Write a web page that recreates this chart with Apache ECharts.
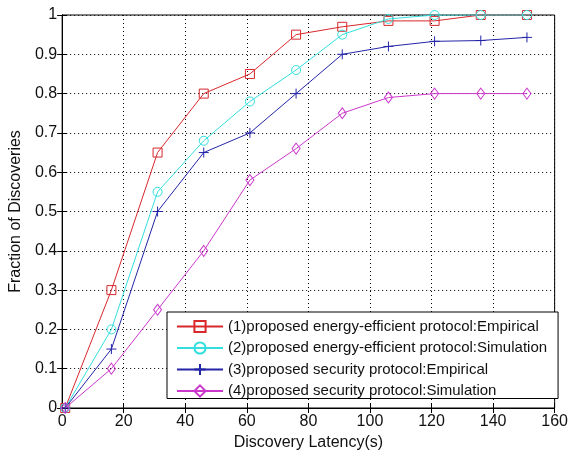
<!DOCTYPE html>
<html><head><meta charset="utf-8">
<script src="https://cdn.jsdelivr.net/npm/echarts@6/dist/echarts.min.js"></script>
<style>html,body{margin:0;padding:0;background:#fff}#c{width:571px;height:456px}</style>
</head><body><div id="c"></div>
<script>
const latency = [1, 16, 31, 46, 61, 76, 91, 106, 121, 136, 151];
const energyEmpirical = [0, 0.30, 0.65, 0.80, 0.85, 0.95, 0.97, 0.985, 0.985, 1.0, 1.0];
const energySimulation = [0, 0.20, 0.55, 0.68, 0.78, 0.86, 0.95, 0.99, 1.0, 1.0, 1.0];
const securityEmpirical = [0, 0.15, 0.50, 0.65, 0.70, 0.80, 0.90, 0.92, 0.933, 0.935, 0.943];
const securitySimulation = [0, 0.10, 0.25, 0.40, 0.58, 0.66, 0.75, 0.79, 0.80, 0.80, 0.80];
const seriesNames = [
  '(1)proposed energy-efficient protocol:Empirical',
  '(2)proposed energy-efficient protocol:Simulation',
  '(3)proposed security protocol:Empirical',
  '(4)proposed security protocol:Simulation'
];
const xTicks = [0, 20, 40, 60, 80, 100, 120, 140, 160];

const FONT = '"Liberation Sans Narrow", "Liberation Sans", Arial, sans-serif';
const colors = ['#d8282c', '#33dede', '#2424a8', '#cc38cc'];
const symbols = ['rect', 'circle', 'path://M0,5L10,5M5,0L5,10', 'diamond'];
const sizes = [[9, 9], [9, 9], [10, 10], [8, 11]];
const dataSets = [energyEmpirical, energySimulation, securityEmpirical, securitySimulation];

const chart = echarts.init(document.getElementById('c'), null, {renderer: 'canvas'});
const series = dataSets.map((d, i) => ({
  name: seriesNames[i],
  type: 'line',
  data: latency.map((x, j) => [x, d[j]]),
  symbol: symbols[i],
  symbolSize: sizes[i],
  showAllSymbol: true,
  lineStyle: {color: colors[i], width: 1},
  itemStyle: {color: 'rgba(255,255,255,0)', borderColor: colors[i], borderWidth: 1},
  emphasis: {disabled: true},
  animation: false,
  z: 3 + i
}));
const axisCommon = {
  axisLine: {show: true, lineStyle: {color: '#000', width: 1}},
  axisTick: {show: true, inside: true, length: 5, lineStyle: {color: '#000'}},
};
chart.setOption({
  backgroundColor: '#fff',
  animation: false,
  grid: {left: 57, right: 14, top: 15, bottom: 45, show: true, borderColor: '#000', borderWidth: 1, backgroundColor: 'transparent'},
  legend: {
    show: true,
    data: seriesNames.map(n => ({name: n, itemStyle: {color: 'rgba(255,255,255,0)'}})),
    orient: 'vertical',
    left: 167, top: 312,
    padding: [7, 11, 0, 9],
    itemGap: 6.5,
    itemWidth: 46, itemHeight: 14,
    borderColor: '#000', borderWidth: 1,
    backgroundColor: '#fff',
    textStyle: {fontFamily: FONT, fontSize: 15, color: '#111', padding: [0, 0, 0, 0]},
    selectedMode: false
  },
  xAxis: [{
    type: 'value', min: 0, max: 160, interval: 20,
    ...axisCommon,
    splitLine: {show: true, lineStyle: {color: '#000', type: [1, 3], width: 1}},
    axisLabel: {fontFamily: FONT, fontSize: 16, color: '#111', margin: 6},
    name: 'Discovery Latency(s)', nameLocation: 'middle', nameGap: 27,
    nameTextStyle: {fontFamily: FONT, fontSize: 16, color: '#111'}
  }, {
    type: 'value', min: 0, max: 160, interval: 20, position: 'top',
    ...axisCommon, axisLabel: {show: false}, splitLine: {show: false}
  }],
  yAxis: [{
    type: 'value', min: 0, max: 1, interval: 0.1,
    ...axisCommon,
    splitLine: {show: true, lineStyle: {color: '#000', type: [1, 3], width: 1}},
    axisLabel: {fontFamily: FONT, fontSize: 16, color: '#111', margin: 5,
      formatter: v => (Math.abs(v) < 1e-9 ? '0' : Math.abs(v - 1) < 1e-9 ? '1' : v.toFixed(1))},
    name: 'Fraction of Discoveries', nameLocation: 'middle', nameGap: 38, nameRotate: 90,
    nameTextStyle: {fontFamily: FONT, fontSize: 16, color: '#111'}
  }, {
    type: 'value', min: 0, max: 1, interval: 0.1, position: 'right',
    ...axisCommon, axisLabel: {show: false}, splitLine: {show: false}
  }],
  series: series
});
</script></body></html>
